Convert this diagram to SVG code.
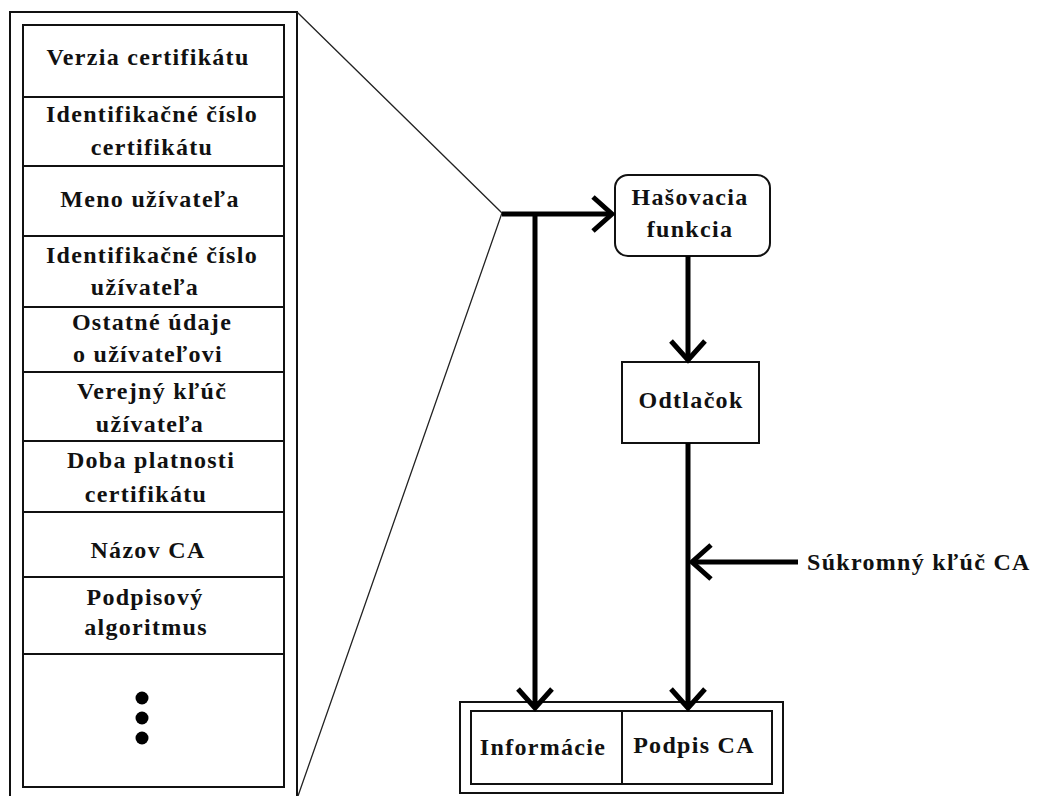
<svg xmlns="http://www.w3.org/2000/svg" width="1038" height="796" viewBox="0 0 1038 796">
<style>
text{font-family:"Liberation Serif","Times New Roman",serif;font-weight:bold;font-size:24px;letter-spacing:1.3px;fill:#111;text-anchor:middle}
.frame{fill:none;stroke:#111;stroke-width:2}
.thin{fill:none;stroke:#222;stroke-width:1.3}
.conn{fill:none;stroke:#000;stroke-width:5}
</style>
<defs>
<marker id="arr" markerUnits="userSpaceOnUse" viewBox="-24 -20 28 40" refX="0" refY="0" markerWidth="28" markerHeight="40" orient="auto" overflow="visible">
<path d="M-19,-17 L0,0 L-19,17" fill="none" stroke="#000" stroke-width="5"/>
</marker>
</defs>
<rect width="1038" height="796" fill="#fff"/>
<g id="certificate">
<path class="frame" d="M10,800 V12 H297 V800"/>
<rect class="frame" x="23" y="25" width="261" height="762"/>
<path class="frame" d="M23,97 H284 M23,166 H284 M23,236 H284 M23,307 H284 M23,372 H284 M23,441 H284 M23,512 H284 M23,577 H284 M23,654 H284"/>
<text x="148" y="65">Verzia certifikátu</text>
<text x="152" y="122">Identifikačné číslo</text>
<text x="152" y="155">certifikátu</text>
<text x="150" y="207">Meno užívateľa</text>
<text x="152" y="263">Identifikačné číslo</text>
<text x="145" y="295">užívateľa</text>
<text x="152" y="330">Ostatné údaje</text>
<text x="148" y="362">o užívateľovi</text>
<text x="152" y="399">Verejný kľúč</text>
<text x="150" y="432">užívateľa</text>
<text x="151" y="468">Doba platnosti</text>
<text x="146" y="502">certifikátu</text>
<text x="148" y="558">Názov CA</text>
<text x="145" y="605">Podpisový</text>
<text x="146" y="635">algoritmus</text>
<circle cx="142" cy="698" r="6.5" fill="#000"/>
<circle cx="142" cy="718" r="6.5" fill="#000"/>
<circle cx="142" cy="738" r="6.5" fill="#000"/>
</g>
<g id="zoom-lines">
<path class="thin" d="M297,12 L502,213 L298,796"/>
</g>
<g id="hash">
<rect class="frame" x="615" y="175" width="155" height="81" rx="13"/>
<text x="690" y="205">Hašovacia</text>
<text x="690" y="237">funkcia</text>
</g>
<g id="digest">
<rect class="frame" x="622" y="362" width="137" height="81"/>
<text x="691" y="408">Odtlačok</text>
</g>
<g id="private-key">
<text x="807" y="570" style="text-anchor:start">Súkromný kľúč CA</text>
</g>
<g id="result">
<rect class="frame" x="460" y="702" width="323" height="91"/>
<rect class="frame" x="471" y="711" width="301" height="73"/>
<path class="frame" d="M622,711 V784"/>
<text x="543" y="755">Informácie</text>
<text x="694" y="753">Podpis CA</text>
</g>
<g id="connectors">
<path class="conn" d="M502,214 H612" marker-end="url(#arr)"/>
<path class="conn" d="M535,214 V708" marker-end="url(#arr)"/>
<path class="conn" d="M688,256 V360" marker-end="url(#arr)"/>
<path class="conn" d="M688,443 V708" marker-end="url(#arr)"/>
<path class="conn" d="M798,562 H692" marker-end="url(#arr)"/>
</g>
</svg>
